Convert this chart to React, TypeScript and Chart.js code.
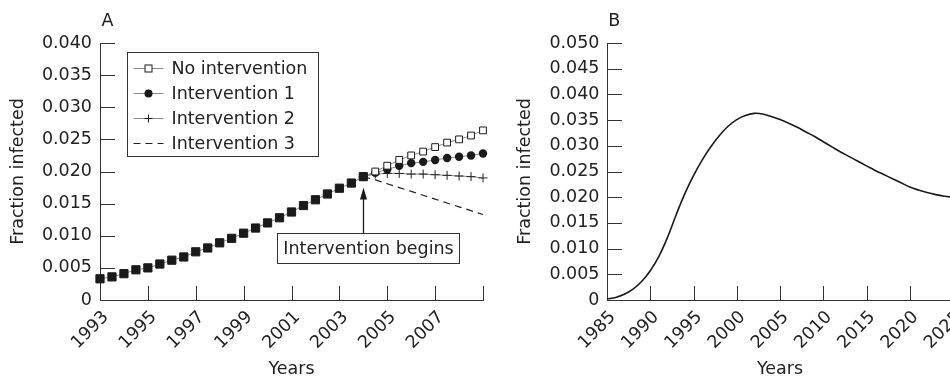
import React, { useEffect, useRef } from 'react';
import { Chart, registerables } from 'chart.js';

Chart.register(...registerables);

// ---------- Panel A data ----------
const yearsA = [
  1993, 1993.5, 1994, 1994.5, 1995, 1995.5, 1996, 1996.5, 1997, 1997.5, 1998, 1998.5,
  1999, 1999.5, 2000, 2000.5, 2001, 2001.5, 2002, 2002.5, 2003, 2003.5, 2004, 2004.5,
  2005, 2005.5, 2006, 2006.5, 2007, 2007.5, 2008, 2008.5, 2009,
];
const noIntervention = [
  0.0033, 0.0036, 0.0041, 0.0047, 0.0050, 0.0056, 0.0062, 0.0067, 0.0075, 0.0081, 0.0089, 0.0096,
  0.0104, 0.0112, 0.0120, 0.0128, 0.0137, 0.0147, 0.0156, 0.0165, 0.0174, 0.0182, 0.0192, 0.0200,
  0.0209, 0.0218, 0.0225, 0.0231, 0.0238, 0.0245, 0.0250, 0.0256, 0.0264,
];
const interventionStart = 2004;
// values from 2004 to 2009, every half year
const intervention1 = [0.0192, 0.0198, 0.0203, 0.0209, 0.0213, 0.0215, 0.0218, 0.0221, 0.0223, 0.0225, 0.0228];
const intervention2 = [0.0192, 0.0196, 0.0197, 0.0197, 0.0196, 0.0196, 0.0195, 0.0194, 0.0193, 0.0192, 0.0190];
const intervention3 = [0.0192, 0.0187, 0.0181, 0.0175, 0.0169, 0.0163, 0.0157, 0.0151, 0.0145, 0.0139, 0.0133];
const seriesLabelsA = ['No intervention', 'Intervention 1', 'Intervention 2', 'Intervention 3'];
const annotationText = 'Intervention begins';

// ---------- Panel B data ----------
const yearsB = [
  1985, 1986, 1987, 1988, 1989, 1990, 1991, 1992, 1993, 1994, 1995, 1996, 1997, 1998,
  1999, 2000, 2001, 2002, 2003, 2004, 2005, 2006, 2007, 2008, 2009, 2010, 2011, 2012,
  2013, 2014, 2015, 2016, 2017, 2018, 2019, 2020, 2021, 2022, 2023, 2024, 2025,
];
const fractionB = [
  0.0002, 0.0005, 0.0011, 0.0021, 0.0036, 0.0057, 0.0085, 0.0122, 0.0166, 0.0207, 0.0242, 0.0272, 0.0298, 0.0320,
  0.0338, 0.0351, 0.0359, 0.0363, 0.0362, 0.0357, 0.0351, 0.0344, 0.0336, 0.0327, 0.0318, 0.0308, 0.0298, 0.0288,
  0.0279, 0.0270, 0.0261, 0.0252, 0.0244, 0.0236, 0.0228, 0.0220, 0.0214, 0.0209, 0.0205, 0.0202, 0.0200,
];

const axisTitleY = 'Fraction infected';
const axisTitleX = 'Years';

// ---------- styling ----------
const FONT = '"DejaVu Sans", sans-serif';
const FSIZE = 17.5;
const TEXT = '#222';
const AXIS = '#333';

Chart.defaults.font.family = FONT;
Chart.defaults.font.size = FSIZE;
Chart.defaults.color = TEXT;

const fmtY = (v: number) => (v === 0 ? '0' : Number(v).toFixed(3));

const inwardTicks = {
  id: 'inwardTicks',
  beforeDatasetsDraw(chart: any, _a: any, opts: any) {
    const { ctx, chartArea, scales } = chart;
    ctx.save();
    ctx.strokeStyle = AXIS;
    ctx.lineWidth = 1;
    scales.x.ticks.forEach((t: any) => {
      const px = Math.round(scales.x.getPixelForValue(t.value)) + 0.5;
      ctx.beginPath();
      ctx.moveTo(px, chartArea.bottom);
      ctx.lineTo(px, chartArea.bottom - opts.xLen);
      ctx.stroke();
    });
    scales.y.ticks.forEach((t: any) => {
      const py = Math.round(scales.y.getPixelForValue(t.value)) + 0.5;
      ctx.beginPath();
      ctx.moveTo(chartArea.left, py);
      ctx.lineTo(chartArea.left + opts.yLen, py);
      ctx.stroke();
    });
    ctx.restore();
  },
};

const panelLetter = {
  id: 'panelLetter',
  afterDraw(chart: any, _a: any, opts: any) {
    const { ctx, chartArea } = chart;
    ctx.save();
    ctx.font = `${FSIZE}px ${FONT}`;
    ctx.fillStyle = TEXT;
    ctx.textAlign = 'center';
    ctx.textBaseline = 'middle';
    ctx.fillText(opts.text, chartArea.left + opts.dx, chartArea.top - opts.dy);
    ctx.restore();
  },
};

const boxLegend = {
  id: 'boxLegend',
  afterDraw(chart: any, _a: any, opts: any) {
    const { ctx, chartArea } = chart;
    const x0 = Math.round(chartArea.left + opts.dx) + 0.5;
    const y0 = Math.round(chartArea.top + opts.dy) + 0.5;
    ctx.save();
    ctx.fillStyle = '#fff';
    ctx.fillRect(x0, y0, opts.width, opts.height);
    ctx.strokeStyle = AXIS;
    ctx.lineWidth = 1;
    ctx.strokeRect(x0, y0, opts.width, opts.height);
    ctx.font = `${FSIZE}px ${FONT}`;
    ctx.textBaseline = 'middle';
    chart.data.datasets.forEach((ds: any, i: number) => {
      const cy = Math.round(y0 + opts.firstRow + i * opts.rowGap) + 0.5;
      const lx1 = x0 + 6, lx2 = x0 + 36, mx = x0 + 21;
      ctx.beginPath();
      ctx.setLineDash(ds.borderDash || []);
      ctx.strokeStyle = ds.borderColor;
      ctx.lineWidth = ds.borderWidth;
      ctx.moveTo(lx1, cy);
      ctx.lineTo(lx2, cy);
      ctx.stroke();
      ctx.setLineDash([]);
      ctx.lineWidth = 1;
      ctx.strokeStyle = '#1a1a1a';
      ctx.fillStyle = '#1a1a1a';
      if (ds.pointStyle === 'rect') {
        ctx.fillStyle = '#fff';
        ctx.fillRect(mx - 3.5, cy - 3.5, 7, 7);
        ctx.strokeRect(mx - 3.5, cy - 3.5, 7, 7);
      } else if (ds.pointStyle === 'circle') {
        ctx.beginPath();
        ctx.arc(mx, cy, 4, 0, Math.PI * 2);
        ctx.fill();
      } else if (ds.pointStyle === 'cross') {
        ctx.beginPath();
        ctx.moveTo(mx - 4, cy);
        ctx.lineTo(mx + 4, cy);
        ctx.moveTo(mx, cy - 4);
        ctx.lineTo(mx, cy + 4);
        ctx.stroke();
      }
      ctx.fillStyle = TEXT;
      ctx.fillText(ds.label, x0 + 44, cy + 1);
    });
    ctx.restore();
  },
};

const arrowNote = {
  id: 'arrowNote',
  afterDraw(chart: any, _a: any, opts: any) {
    const { ctx, scales } = chart;
    const ax = Math.round(scales.x.getPixelForValue(opts.xValue)) + 0.5;
    const tipY = scales.y.getPixelForValue(opts.tipValue);
    const boxTop = Math.round(scales.y.getPixelForValue(opts.boxTopValue)) + 0.5;
    ctx.save();
    ctx.font = `${FSIZE}px ${FONT}`;
    const tw = ctx.measureText(opts.text).width;
    const bw = Math.round(tw + 12);
    const bh = 30;
    const bx = Math.round(scales.x.getPixelForValue(opts.boxCenterValue) - bw / 2) + 0.5;
    ctx.fillStyle = '#fff';
    ctx.fillRect(bx, boxTop, bw, bh);
    ctx.strokeStyle = AXIS;
    ctx.lineWidth = 1;
    ctx.strokeRect(bx, boxTop, bw, bh);
    ctx.fillStyle = TEXT;
    ctx.textAlign = 'center';
    ctx.textBaseline = 'middle';
    ctx.fillText(opts.text, bx + bw / 2, boxTop + bh / 2 + 1);
    // arrow
    ctx.strokeStyle = '#1a1a1a';
    ctx.lineWidth = 1.3;
    ctx.beginPath();
    ctx.moveTo(ax, boxTop);
    ctx.lineTo(ax, tipY + 10);
    ctx.stroke();
    ctx.fillStyle = '#1a1a1a';
    ctx.beginPath();
    ctx.moveTo(ax, tipY);
    ctx.lineTo(ax - 3.5, tipY + 12);
    ctx.lineTo(ax + 3.5, tipY + 12);
    ctx.closePath();
    ctx.fill();
    ctx.restore();
  },
};

function pts(xs: number[], ys: number[]) {
  return ys.map((y, i) => ({ x: xs[i], y }));
}

function configA(): any {
  const postYears = yearsA.filter((y) => y >= interventionStart);
  return {
    type: 'line',
    data: {
      datasets: [
        {
          label: seriesLabelsA[0],
          data: pts(yearsA, noIntervention),
          borderColor: '#8a8a8a',
          borderWidth: 1,
          pointStyle: 'rect',
          pointRadius: (c: any) => (yearsA[c.dataIndex] <= interventionStart ? 5.8 : 4.8),
          pointBackgroundColor: (c: any) => (yearsA[c.dataIndex] <= interventionStart ? '#1a1a1a' : '#fff'),
          pointBorderColor: '#1a1a1a',
          pointBorderWidth: 1,
          clip: false,
        },
        {
          label: seriesLabelsA[1],
          data: pts(postYears, intervention1),
          borderColor: '#8a8a8a',
          borderWidth: 1,
          pointStyle: 'circle',
          pointRadius: 4.2,
          pointBackgroundColor: '#1a1a1a',
          pointBorderColor: '#1a1a1a',
          pointBorderWidth: 0,
          clip: false,
        },
        {
          label: seriesLabelsA[2],
          data: pts(postYears, intervention2),
          borderColor: '#8a8a8a',
          borderWidth: 1,
          pointStyle: 'cross',
          pointRadius: 4.5,
          pointBorderColor: '#222',
          pointBorderWidth: 1,
          clip: false,
        },
        {
          label: seriesLabelsA[3],
          data: pts(postYears, intervention3),
          borderColor: '#222',
          borderWidth: 1.2,
          borderDash: [7, 5],
          pointRadius: 0,
          clip: false,
        },
      ],
    },
    options: {
      animation: false,
      responsive: false,
      devicePixelRatio: 1,
      layout: { padding: { top: 43, right: 37, bottom: 0, left: 0 } },
      plugins: {
        legend: { display: false },
        tooltip: { enabled: false },
        inwardTicks: { xLen: 14, yLen: 15 },
        panelLetter: { text: 'A', dx: 7.5, dy: 21.5 },
        boxLegend: { dx: 27, dy: 9, width: 191, height: 104, firstRow: 15, rowGap: 25 },
        arrowNote: {
          text: annotationText,
          xValue: interventionStart,
          tipValue: 0.0175,
          boxTopValue: 0.0104,
          boxCenterValue: 2004.2,
        },
      },
      scales: {
        x: {
          type: 'linear',
          min: 1993,
          max: 2009,
          grid: { display: false, drawTicks: false },
          border: { display: true, color: AXIS, width: 1 },
          ticks: {
            stepSize: 2,
            autoSkip: false,
            minRotation: 45,
            maxRotation: 45,
            padding: 7,
            labelOffset: 6,
            color: TEXT,
            callback: (v: number) => (v === 2009 ? '' : String(v)),
          },
          title: { display: true, text: axisTitleX, color: TEXT, padding: { top: 0, bottom: 0 } },
          afterFit: (s: any) => { s.height = 80; },
        },
        y: {
          min: 0,
          max: 0.04,
          grid: { display: false, drawTicks: false },
          border: { display: true, color: AXIS, width: 1 },
          ticks: { stepSize: 0.005, padding: 8, color: TEXT, callback: fmtY },
          title: { display: true, text: axisTitleY, color: TEXT, padding: { top: 7.5, bottom: 0 } },
          afterFit: (s: any) => { s.width = 100; },
        },
      },
    },
    plugins: [inwardTicks, panelLetter, boxLegend, arrowNote],
  };
}

function configB(): any {
  return {
    type: 'line',
    data: {
      datasets: [
        {
          label: axisTitleY,
          data: pts(yearsB, fractionB),
          borderColor: '#1a1a1a',
          borderWidth: 1.6,
          pointRadius: 0,
          tension: 0.4,
          clip: false,
        },
      ],
    },
    options: {
      animation: false,
      responsive: false,
      devicePixelRatio: 1,
      layout: { padding: { top: 43, right: 27, bottom: 0, left: 0 } },
      plugins: {
        legend: { display: false },
        tooltip: { enabled: false },
        inwardTicks: { xLen: 14, yLen: 15 },
        panelLetter: { text: 'B', dx: 7.3, dy: 21.7 },
      },
      scales: {
        x: {
          type: 'linear',
          min: 1985,
          max: 2025,
          grid: { display: false, drawTicks: false },
          border: { display: true, color: AXIS, width: 1 },
          ticks: {
            stepSize: 5,
            autoSkip: false,
            minRotation: 45,
            maxRotation: 45,
            padding: 7,
            labelOffset: 6,
            color: TEXT,
            callback: (v: number) => String(v),
          },
          title: { display: true, text: axisTitleX, color: TEXT, padding: { top: 0, bottom: 0 } },
          afterFit: (s: any) => { s.height = 80; },
        },
        y: {
          min: 0,
          max: 0.05,
          grid: { display: false, drawTicks: false },
          border: { display: true, color: AXIS, width: 1 },
          ticks: { stepSize: 0.005, padding: 7.5, color: TEXT, callback: fmtY },
          title: { display: true, text: axisTitleY, color: TEXT, padding: { top: 14.5, bottom: 0 } },
          afterFit: (s: any) => { s.width = 107; },
        },
      },
    },
    plugins: [inwardTicks, panelLetter],
  };
}

export default function App() {
  const refA = useRef<HTMLCanvasElement>(null);
  const refB = useRef<HTMLCanvasElement>(null);
  useEffect(() => {
    const a = new Chart(refA.current as HTMLCanvasElement, configA());
    const b = new Chart(refB.current as HTMLCanvasElement, configB());
    return () => {
      a.destroy();
      b.destroy();
    };
  }, []);
  return (
    <div
      style={{
        position: 'fixed',
        left: 0,
        top: 0,
        width: 950,
        height: 380,
        overflow: 'hidden',
        background: '#fff',
      }}
    >
      <canvas
        ref={refB}
        width={480}
        height={380}
        style={{ position: 'absolute', left: 500, top: 0, width: 480, height: 380 }}
      />
      <canvas
        ref={refA}
        width={520}
        height={380}
        style={{ position: 'absolute', left: 0, top: 0, width: 520, height: 380 }}
      />
    </div>
  );
}
